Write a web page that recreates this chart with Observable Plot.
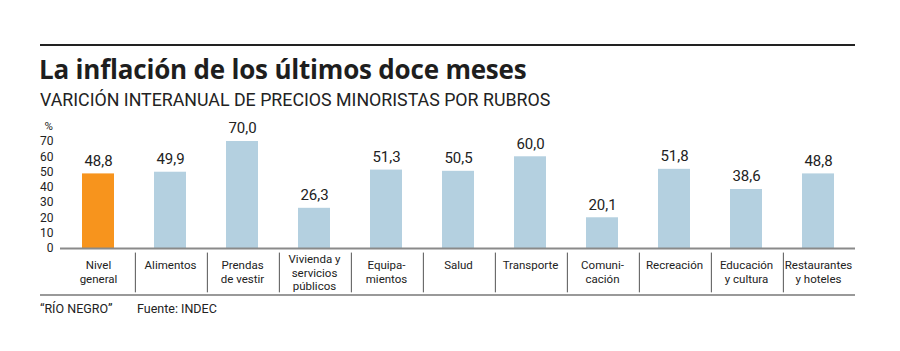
<!DOCTYPE html>
<html>
<head>
<meta charset="utf-8">
<script src="https://cdn.jsdelivr.net/npm/d3@7"></script>
<script src="https://cdn.jsdelivr.net/npm/@observablehq/plot@0.6"></script>
<style>
  body { margin: 0; background: #fff; font-family: Roboto, "Liberation Sans", sans-serif; color: #222; }
  #wrap { width: 900px; height: 351px; position: relative; overflow: hidden; }
  #rule { position: absolute; left: 40px; top: 44px; width: 815px; border-top: 2px solid #222; }
  #title { position: absolute; left: 39px; top: 51px; font-family: "Open Sans", Roboto, sans-serif; font-weight: 700; font-size: 26px; letter-spacing: -0.2px; color: #1e1e1e; white-space: nowrap; }
  #subtitle { position: absolute; left: 40px; top: 89px; font-size: 17.8px; color: #222; white-space: nowrap; letter-spacing: 0px; }
  #chart { position: absolute; left: 0; top: 112px; }
  #bottomrule { position: absolute; left: 40px; top: 294px; width: 815px; border-top: 2px solid #999; }
  #footer { position: absolute; left: 40px; top: 301px; font-size: 12.5px; color: #222; white-space: nowrap; }
  #footer span.src { position: absolute; left: 97px; }
</style>
</head>
<body>
<div id="wrap">
  <div id="rule"></div>
  <div id="title">La inflación de los últimos doce meses</div>
  <div id="subtitle">VARICIÓN INTERANUAL DE PRECIOS MINORISTAS POR RUBROS</div>
  <div id="chart"></div>
  <div id="bottomrule"></div>
  <div id="footer"><span>“RÍO NEGRO”</span><span class="src">Fuente: INDEC</span></div>
</div>
<script>
const categories = ["Nivel\ngeneral", "Alimentos", "Prendas\nde vestir", "Vivienda y\nservicios\npúblicos", "Equipa-\nmientos", "Salud", "Transporte", "Comuni-\ncación", "Recreación", "Educación\ny cultura", "Restaurantes\ny hoteles"];
const values = [48.8, 49.9, 70.0, 26.3, 51.3, 50.5, 60.0, 20.1, 51.8, 38.6, 48.8];
const highlight = ["Nivel\ngeneral"];
const yTicks = [0, 10, 20, 30, 40, 50, 60, 70];

const data = categories.map((c, i) => ({cat: c, value: values[i], hi: highlight.includes(c)}));
const fmt = v => v.toFixed(1).replace(".", ",");
const nLines = c => c.split("\n").length;

const W = 900, H = 190, mL = 60, mR = 45;
const step = (W - mL - mR) / categories.length;

const chart = Plot.plot({
  width: W,
  height: H,
  marginLeft: mL,
  marginRight: mR,
  marginTop: 29,
  marginBottom: 54,
  style: {fontFamily: "Roboto, sans-serif", fontSize: "11.5px", color: "#222", background: "transparent"},
  x: {domain: categories, paddingInner: 0.56, paddingOuter: 0.28, align: 0.5, label: null},
  y: {domain: [0, 70], label: null},
  marks: [
    Plot.gridY(yTicks, {stroke: "#e2e2e2", strokeOpacity: 1, strokeWidth: 1.5, x1: mL - 1, x2: W - mR}),
    Plot.axisY(yTicks, {tickSize: 0, tickPadding: 7, fontSize: 12, label: null}),
    Plot.text(["%"], {frameAnchor: "top-left", dx: -16, dy: -20, fontSize: 11.5, fill: "#222"}),
    Plot.barY(data, {x: "cat", y: "value", fill: d => d.hi ? "#f7941d" : "#b4d0e0"}),
    Plot.ruleY([0], {stroke: "#8a8a8a", strokeWidth: 2}),
    Plot.text(data, {x: "cat", y: "value", text: d => fmt(d.value), dy: -13, fontSize: 15, fill: "#222"}),
    Plot.ruleX(categories.slice(1), {x: d => d, y1: -3, y2: -29, dx: -step / 2 + 1, stroke: "#555", strokeWidth: 1}),
    Plot.axisX(categories.filter(c => nLines(c) < 3), {tickSize: 0, tickPadding: 11, fontSize: 11.5, lineHeight: 1.17, label: null, textAnchor: "middle"}),
    Plot.axisX(categories.filter(c => nLines(c) >= 3), {tickSize: 0, tickPadding: 5, fontSize: 11.5, lineHeight: 1.17, label: null, textAnchor: "middle"})
  ]
});
document.getElementById("chart").appendChild(chart);
</script>
</body>
</html>
